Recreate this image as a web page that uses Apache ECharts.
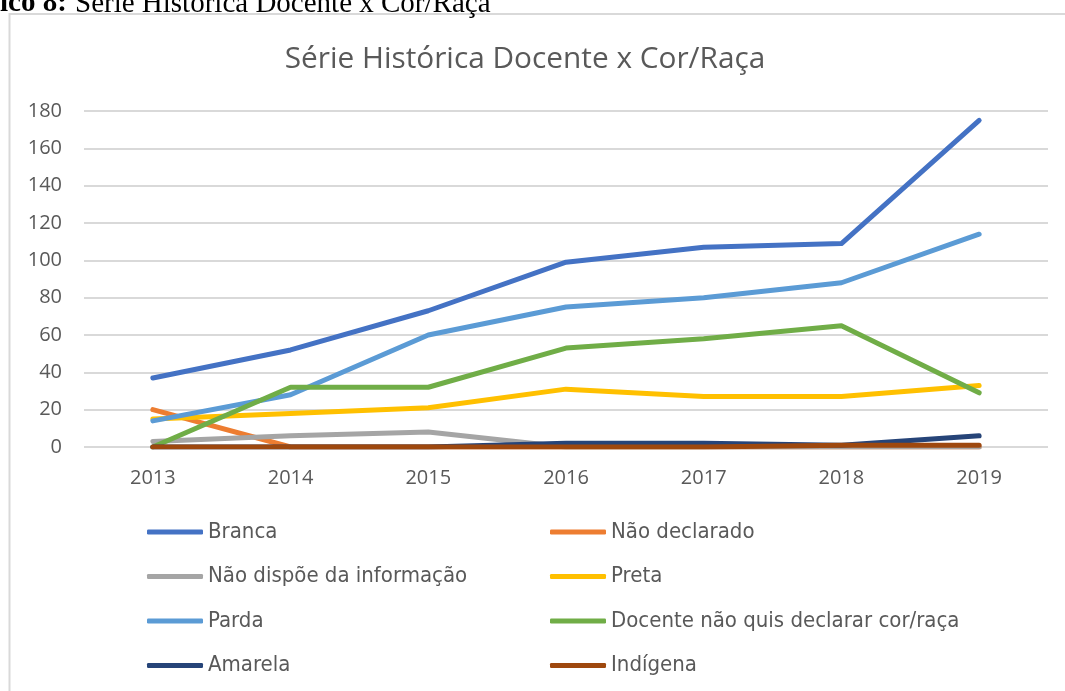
<!DOCTYPE html>
<html>
<head>
<meta charset="utf-8">
<script src="https://cdn.jsdelivr.net/npm/echarts@6/dist/echarts.min.js"></script>
<style>
  html, body { margin: 0; padding: 0; background: #fff; }
  #main { width: 1065px; height: 691px; }
</style>
</head>
<body>
<div id="main"></div>
<script>
// anos (eixo x)
var years = ['2013', '2014', '2015', '2016', '2017', '2018', '2019'];

// séries
var branca       = [37, 52, 73, 99, 107, 109, 175];
var naoDeclarado = [20, 0, 0, 0, 0, 0, 0];
var naoDispoe    = [3, 6, 8, 0, 0, 0, 0];
var preta        = [15, 18, 21, 31, 27, 27, 33];
var parda        = [14, 28, 60, 75, 80, 88, 114];
var docente      = [0, 32, 32, 53, 58, 65, 29];
var amarela      = [0, 0, 0, 2, 2, 1, 6];
var indigena     = [0, 0, 0, 0, 0, 1, 1];

var names = ['Branca', 'Não declarado', 'Não dispõe da informação', 'Preta',
             'Parda', 'Docente não quis declarar cor/raça', 'Amarela', 'Indígena'];
var values = [branca, naoDeclarado, naoDispoe, preta, parda, docente, amarela, indigena];
var colors = ['#4472C4', '#ED7D31', '#A5A5A5', '#FFC000',
              '#5B9BD5', '#70AD47', '#264478', '#9E480E'];

var myChart = echarts.init(document.getElementById('main'));

// monta as séries
var series = [];
for (var i = 0; i < names.length; i++) {
    series.push({
        name: names[i],
        type: 'line',
        data: values[i],
        symbol: 'none',
        color: colors[i],
        lineStyle: { width: 5, cap: 'round', join: 'round' },
        emphasis: { disabled: true }
    });
}

var legendText = {
    color: '#595959',
    fontFamily: "'DejaVu Sans Condensed', 'DejaVu Sans', sans-serif",
    fontSize: 22,
    lineHeight: 26
};
function legendCol(left, items) {
    return {
        orient: 'vertical',
        left: left,
        top: 519,
        padding: 0,
        itemWidth: 56,
        itemHeight: 5,
        itemGap: 18.5,
        icon: 'roundRect',
        selectedMode: false,
        textStyle: legendText,
        data: items
    };
}

var option = {
    animation: false,
    title: {
        text: 'Série Histórica Docente x Cor/Raça',
        left: 520,
        textAlign: 'center',
        top: 40,
        textStyle: {
            color: '#595959',
            fontFamily: 'Open Sans',
            fontWeight: 'normal',
            fontSize: 29.8
        }
    },
    legend: [
        legendCol(147, [names[0], names[2], names[4], names[6]]),
        legendCol(550, [names[1], names[3], names[5], names[7]])
    ],
    grid: { left: 84, right: 17, top: 111, bottom: 244 },
    xAxis: {
        type: 'category',
        data: years,
        boundaryGap: true,
        axisLine: { show: false },
        axisTick: { show: false },
        axisLabel: { color: '#595959', fontFamily: 'Open Sans', fontSize: 20, margin: 21 }
    },
    yAxis: {
        type: 'value',
        min: 0,
        max: 180,
        interval: 20,
        axisLine: { show: false },
        axisTick: { show: false },
        axisLabel: { color: '#595959', fontFamily: 'Open Sans', fontSize: 20, margin: 22 },
        splitLine: { lineStyle: { color: '#D9D9D9', width: 2 } }
    },
    graphic: [
        {
            type: 'rect',
            shape: { x: 9.5, y: 14, width: 1100, height: 700 },
            style: { fill: 'none', stroke: '#D9D9D9', lineWidth: 2 },
            silent: true
        },
        {
            type: 'text',
            x: 0, y: 4,
            style: {
                text: 'ico 8:',
                fill: '#000',
                font: "bold 29px 'Liberation Serif'",
                verticalAlign: 'middle'
            }
        },
        {
            type: 'text',
            x: 75, y: 4,
            style: {
                text: 'Série Histórica Docente x Cor/Raça',
                fill: '#000',
                font: "29px 'Liberation Serif'",
                verticalAlign: 'middle'
            }
        }
    ],
    series: series
};
myChart.setOption(option);
</script>
</body>
</html>
